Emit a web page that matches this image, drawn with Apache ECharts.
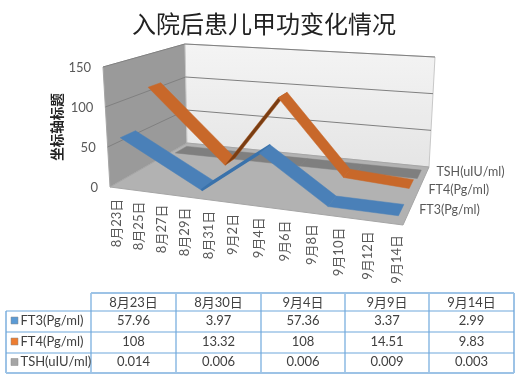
<!DOCTYPE html>
<html>
<head>
<meta charset="utf-8">
<style>
html, body { margin: 0; padding: 0; background: #fff; }
#chart { width: 522px; height: 380px; }
</style>
<script src="https://cdn.jsdelivr.net/npm/echarts@6/dist/echarts.min.js"></script>
</head>
<body>
<div id="chart"></div>
<script>
const titleText = '入院后患儿甲功变化情况';
const yAxisTitle = '坐标轴标题';
const tableDates = ['8月23日', '8月30日', '9月4日', '9月9日', '9月14日'];
const dayOffsets = [0, 7, 12, 17, 22];
const seriesNames = ['FT3(Pg/ml)', 'FT4(Pg/ml)', 'TSH(uIU/ml)'];
const ft3 = [57.96, 3.97, 57.36, 3.37, 2.99];
const ft4 = [108, 13.32, 108, 14.51, 9.83];
const tsh = [0.014, 0.006, 0.006, 0.009, 0.003];
const tickLabels = ['8月23日', '8月25日', '8月27日', '8月29日', '8月31日', '9月2日', '9月4日', '9月6日', '9月8日', '9月10日', '9月12日', '9月14日'];
const tickDays = [0, 2, 4, 6, 8, 10, 12, 14, 16, 18, 20, 22];
const yTicks = [0, 50, 100, 150];

const font = 'Lato, "Noto Sans CJK SC", sans-serif';
const cjkFont = '"Noto Sans CJK SC", sans-serif';
const textColor = '#595959';

// box corners on the picture: front-left, front-right, back-right, back-left
const floorQuad = [[110, 187], [403, 225], [429, 167], [187, 143]];
const topQuad = [[103, 67], [414, 93], [435, 57], [185, 44]];
// depth band of each ribbon, 0 = front, 1 = back
const bands = [[0.08, 0.25], [0.42, 0.58], [0.75, 0.92]];
const ribbonColors = [['#4a80b8', '#3a72ab'], ['#c8682a', '#7a3d12'], ['#7f7f7f', '#7f7f7f']];
const underStroke = [['#3a72ab', 2.2], ['#b05a20', 0.4], ['#7f7f7f', 0.5]];
const swatchColors = ['#5b9bd5', '#ed7d31', '#a5a5a5'];

function makeHomography(q) {
	const [[x0, y0], [x1, y1], [x2, y2], [x3, y3]] = q;
	const sx = x0 - x1 + x2 - x3, sy = y0 - y1 + y2 - y3;
	const dx1 = x1 - x2, dx2 = x3 - x2, dy1 = y1 - y2, dy2 = y3 - y2;
	const det = dx1 * dy2 - dx2 * dy1;
	const g = (sx * dy2 - dx2 * sy) / det;
	const h = (dx1 * sy - sx * dy1) / det;
	const a = x1 - x0 + g * x1, b = x3 - x0 + h * x3;
	const d = y1 - y0 + g * y1, e = y3 - y0 + h * y3;
	return (u, w) => {
		const k = g * u + h * w + 1;
		return [(a * u + b * w + x0) / k, (d * u + e * w + y0) / k];
	};
}
const floorAt = makeHomography(floorQuad);
const topAt = makeHomography(topQuad);

function project(u, v, w) {
	const f = floorAt(u, w), t = topAt(u, w);
	return [f[0] + (t[0] - f[0]) * v, f[1] + (t[1] - f[1]) * v];
}

// data value -> unit box through the grid's axes
function toUnit(params, api, day, val) {
	const c = api.coord([day, val]);
	const r = params.coordSys;
	return [(c[0] - r.x) / r.width, 1 - (c[1] - r.y) / r.height];
}

function segments(values) {
	return values.slice(1).map((v, i) => [dayOffsets[i], values[i], dayOffsets[i + 1], v]);
}

function ribbonSeries(values, idx) {
	const [w0, w1] = bands[idx];
	return {
		type: 'custom',
		name: seriesNames[idx],
		z: 5 + (2 - idx),
		data: segments(values),
		encode: {x: [0, 2], y: [1, 3]},
		silent: true,
		renderItem(params, api) {
			const a = toUnit(params, api, api.value(0), api.value(1));
			const b = toUnit(params, api, api.value(2), api.value(3));
			const pts = [
				project(a[0], a[1], w0), project(b[0], b[1], w0),
				project(b[0], b[1], w1), project(a[0], a[1], w1),
			];
			// rising parts show their thin dark side
			const rising = api.value(3) > api.value(1) + 1;
			const stroke = rising ? underStroke[idx][0] : ribbonColors[idx][0];
			const lineWidth = rising ? underStroke[idx][1] : 0.5;
			return {type: 'polygon', shape: {points: pts}, style: {fill: ribbonColors[idx][rising ? 1 : 0], stroke, lineWidth}};
		},
	};
}

const wallSeries = {
	type: 'custom',
	z: 1,
	silent: true,
	data: [[0, 0]],
	encode: {x: 0, y: 1},
	renderItem() {
		const edge = '#a6a6a6';
		const children = [
			{type: 'polygon', shape: {points: [project(0, 0, 0), project(0, 0, 1), project(0, 1, 1), project(0, 1, 0)]},
				style: {fill: '#9a9a9a', stroke: edge, lineWidth: 1}},
			{type: 'polygon', shape: {points: [project(0, 0, 1), project(1, 0, 1), project(1, 1, 1), project(0, 1, 1)]},
				style: {
					fill: {type: 'linear', x: 0, y: 0, x2: 0, y2: 1, colorStops: [{offset: 0, color: '#f4f4f4'}, {offset: 1, color: '#e5e5e5'}]},
					stroke: '#c8c8c8', lineWidth: 1,
				}},
			{type: 'polygon', shape: {points: [project(0, 0, 0), project(1, 0, 0), project(1, 0, 1), project(0, 0, 1)]},
				style: {fill: '#b2b2b2', stroke: edge, lineWidth: 1}},
		];
		return {type: 'group', children};
	},
};

const gridSeries = {
	type: 'custom',
	z: 2,
	silent: true,
	data: yTicks.slice(1).map(t => [0, t]),
	encode: {x: 0, y: 1},
	renderItem(params, api) {
		const v = toUnit(params, api, 0, api.value(1))[1];
		return {type: 'polyline', shape: {points: [project(0, v, 0), project(0, v, 1), project(1, v, 1)]},
			style: {fill: null, stroke: '#808080', lineWidth: 1}};
	},
};

const yLabelSeries = {
	type: 'custom',
	z: 3,
	silent: true,
	data: yTicks.map(t => [0, t]),
	encode: {x: 0, y: 1},
	renderItem(params, api) {
		const val = api.value(1);
		const p = project(0, toUnit(params, api, 0, val)[1], 0);
		return {type: 'text', x: p[0] - 12, y: p[1] + 1,
			style: {text: String(val), font: '13px ' + font, fill: textColor, align: 'right', verticalAlign: 'middle'}};
	},
};

const xLabelSeries = {
	type: 'custom',
	z: 3,
	silent: true,
	data: tickDays.map((d, i) => [d, 0, i]),
	encode: {x: 0, y: 1},
	renderItem(params, api) {
		const u = toUnit(params, api, api.value(0), 0)[0];
		const p = project(u, 0, 0);
		return {type: 'text', x: p[0] + 1, y: p[1] + 11, rotation: Math.PI / 2,
			style: {text: tickLabels[api.value(2)], font: '13px ' + font, fill: textColor, align: 'right', verticalAlign: 'middle'}};
	},
};

const seriesLabelSeries = {
	type: 'custom',
	z: 3,
	silent: true,
	data: seriesNames.map((n, i) => [22.5, 0, i]),
	encode: {x: 0, y: 1},
	renderItem(params, api) {
		const i = api.value(2);
		const p = project(1, 0, (bands[i][0] + bands[i][1]) / 2);
		return {type: 'text', x: p[0] + 11, y: p[1] - 3,
			style: {text: seriesNames[i], font: '12.5px ' + font, fill: textColor, align: 'left', verticalAlign: 'middle'}};
	},
};

// table
const tableX = [6, 91, 176, 261, 345, 429, 514];
const rowY = [293, 311, 332, 353, 373];
const tableRows = [ft3, ft4, tsh];
const tableGraphics = [];

function tableLine(x1, y1, x2, y2, outer) {
	tableGraphics.push({type: 'line', shape: {x1, y1, x2, y2},
		style: {stroke: outer ? '#9dc3e6' : '#6fa8dc', lineWidth: outer ? 2 : 1.2}});
}
function tableText(text, x, y, align) {
	tableGraphics.push({type: 'text', x, y,
		style: {text, font: '13px ' + font, fill: '#404040', align, verticalAlign: 'middle'}});
}
tableX.forEach((x, i) => {
	if (i === 0) tableLine(x, rowY[1], x, rowY[4], true);
	else tableLine(x, rowY[0], x, rowY[4], i === tableX.length - 1);
});
rowY.forEach((y, i) => {
	tableLine(i === 0 ? tableX[1] : tableX[0], y, tableX[6], y, i === 0 || i === rowY.length - 1);
});
tableDates.forEach((d, c) => {
	const cx = (tableX[c + 1] + tableX[c + 2]) / 2;
	tableText(d, cx, (rowY[0] + rowY[1]) / 2 + 0.5, 'center');
	tableRows.forEach((row, r) => {
		tableText(String(row[c]), cx, (rowY[r + 1] + rowY[r + 2]) / 2 - 1, 'center');
	});
});
seriesNames.forEach((name, r) => {
	const cy = (rowY[r + 1] + rowY[r + 2]) / 2 - 1;
	tableGraphics.push({type: 'rect', shape: {x: 11, y: cy - 3.5, width: 7, height: 7}, style: {fill: swatchColors[r], stroke: '#8a8a8a', lineWidth: 0.5}});
	tableText(name, 20.5, cy, 'left');
});

const chart = echarts.init(document.getElementById('chart'), null, {renderer: 'canvas'});
chart.setOption({
	animation: false,
	backgroundColor: '#fff',
	title: {
		text: titleText,
		left: 259,
		top: 7,
		textAlign: 'center',
		textStyle: {fontFamily: cjkFont, fontSize: 24, fontWeight: 'normal', color: '#222'},
	},
	grid: {left: 100, right: 100, top: 50, bottom: 150, show: false},
	xAxis: {type: 'value', min: -0.5, max: 22.5, show: false},
	yAxis: {type: 'value', min: 0, max: 150, interval: 50, show: false},
	graphic: [
		{type: 'text', x: 57, y: 127, rotation: Math.PI / 2,
			style: {text: yAxisTitle, font: 'bold 13.5px ' + cjkFont, fill: '#222', align: 'center', verticalAlign: 'middle'}},
		...tableGraphics,
	],
	series: [
		wallSeries,
		gridSeries,
		yLabelSeries,
		xLabelSeries,
		seriesLabelSeries,
		ribbonSeries(tsh, 2),
		ribbonSeries(ft4, 1),
		ribbonSeries(ft3, 0),
	],
});
</script>
</body>
</html>
